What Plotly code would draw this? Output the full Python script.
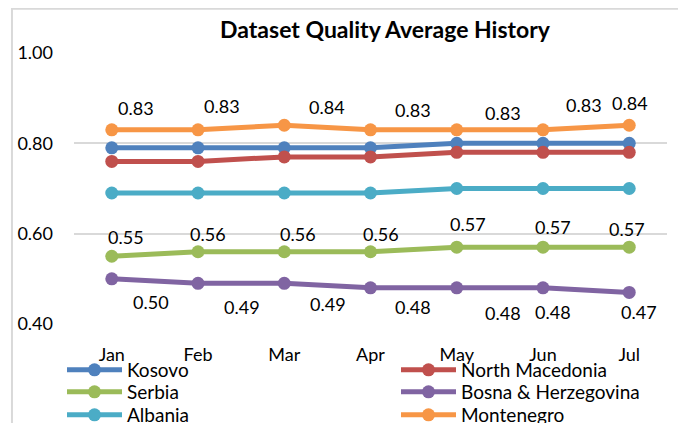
import plotly.graph_objects as go

months = ["Jan", "Feb", "Mar", "Apr", "May", "Jun", "Jul"]

kosovo = [0.79, 0.79, 0.79, 0.79, 0.80, 0.80, 0.80]
north_macedonia = [0.76, 0.76, 0.77, 0.77, 0.78, 0.78, 0.78]
serbia = [0.55, 0.56, 0.56, 0.56, 0.57, 0.57, 0.57]
bosna = [0.50, 0.49, 0.49, 0.48, 0.48, 0.48, 0.47]
albania = [0.69, 0.69, 0.69, 0.69, 0.70, 0.70, 0.70]
montenegro = [0.83, 0.83, 0.84, 0.83, 0.83, 0.83, 0.84]

FONT = "Lato, Carlito, Calibri, sans-serif"

# the page body adds an 8px margin, so the figure is 8px smaller than the window
W, H = 678, 415

# name, values, colour, legend slot (x, top y) in figure px
series = [
    ("Kosovo", kosovo, "#4F81BD", (54, 343)),
    ("North Macedonia", north_macedonia, "#C0504D", (388, 343)),
    ("Serbia", serbia, "#9BBB59", (54, 365)),
    ("Bosna & Herzegovina", bosna, "#8064A2", (388, 365)),
    ("Albania", albania, "#4BACC6", (54, 388)),
    ("Montenegro", montenegro, "#F79646", (388, 388)),
]

# hand-placed data label offsets (px), like the excel original
label_shifts = {
    "Montenegro": ([24, 24, 43, 42, 46, 41, 1], [22, 24, 18, 20, 17, 25, 22]),
    "Serbia": ([14, 10, 14, 10, 11, 10, -2], [19, 18, 18, 18, 23, 20, 18]),
    "Bosna & Herzegovina": ([39, 44, 44, 42, 46, 10, 10], [-23, -24, -21, -19, -25, -24, -20]),
}

fig = go.Figure()
legends = {}

for i, (name, vals, color, (lx, ly)) in enumerate(series):
    leg = "legend" if i == 0 else f"legend{i + 1}"
    legends[leg] = dict(
        x=lx / W, y=1 - ly / H, xref="container", yref="container",
        xanchor="left", yanchor="top", orientation="h",
        itemwidth=55,
        font=dict(family=FONT, size=19, color="#000000"),
        bgcolor="rgba(0,0,0,0)",
    )
    fig.add_trace(go.Scatter(
        x=months, y=vals, name=name, mode="lines+markers",
        line=dict(color=color, width=5),
        marker=dict(color=color, size=13),
        legend=leg,
        cliponaxis=False,
    ))
    if name in label_shifts:
        dxs, dys = label_shifts[name]
        for m, v, dx, dy in zip(months, vals, dxs, dys):
            fig.add_annotation(
                x=m, y=v, text=f"{v:.2f}", showarrow=False,
                xshift=dx, yshift=dy,
                font=dict(family=FONT, size=18, color="#000000"),
            )

# light grey chart border
fig.add_shape(type="rect", xref="paper", yref="paper",
              x0=-0.1046, x1=1.027, y0=-0.6, y1=1.163,
              line=dict(color="#D9D9D9", width=2), layer="below")

fig.update_layout(
    width=W, height=H,
    paper_bgcolor="white", plot_bgcolor="white",
    margin=dict(l=66, r=19, t=45, b=99),
    font=dict(family=FONT, size=18, color="#000000"),
    title=dict(
        text="<b>Dataset Quality Average History</b>",
        font=dict(family=FONT, size=23, color="#000000"),
        x=377 / W, xref="container", xanchor="center",
        y=1 - 22 / H, yref="container", yanchor="middle",
    ),
    xaxis=dict(
        showgrid=False, showline=False, zeroline=False,
        ticks="", ticklabelstandoff=18, automargin=False,
        tickfont=dict(family=FONT, size=18),
    ),
    yaxis=dict(
        range=[0.4, 1.0], dtick=0.2, tickformat=".2f",
        showgrid=True, gridcolor="#D9D9D9", gridwidth=1.5,
        zeroline=False, showline=False, ticks="",
        ticklabelstandoff=20, automargin=False,
        tickfont=dict(family=FONT, size=18),
    ),
    showlegend=True,
    **legends,
)

fig.write_html("out.html")
